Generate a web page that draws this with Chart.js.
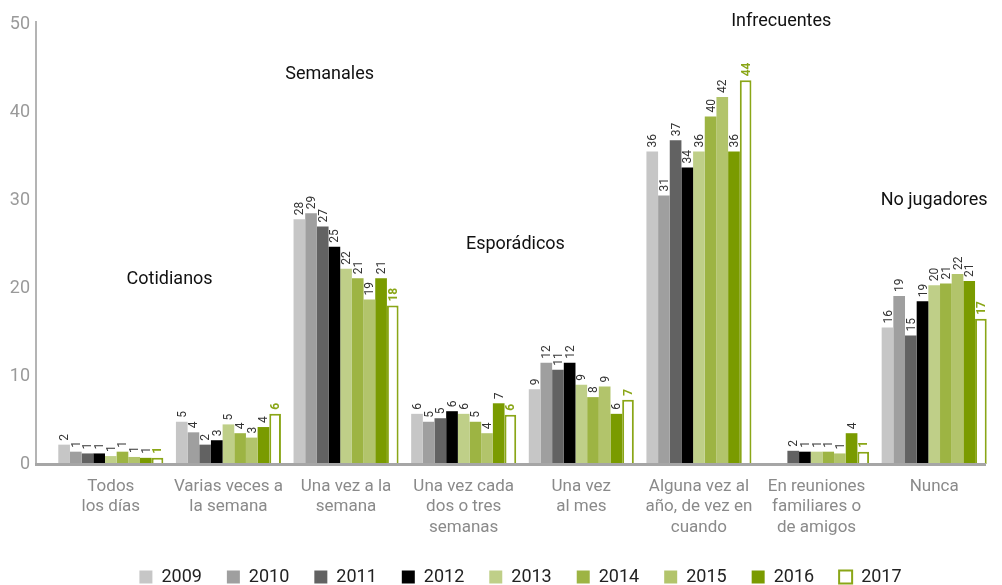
<!DOCTYPE html>
<html><head><meta charset="utf-8">
<script src="https://cdn.jsdelivr.net/npm/chart.js@4/dist/chart.umd.min.js"></script>
<style>html,body{margin:0;padding:0;background:#fff}#wrap{width:1002px;height:585px;position:relative}</style>
</head><body><div id="wrap"><canvas id="c"></canvas></div>
<script>
const categories = [["Todos","los días"],["Varias veces a","la semana"],["Una vez a la","semana"],["Una vez cada","dos o tres","semanas"],["Una vez","al mes"],["Alguna vez al","año, de vez en","cuando"],["En reuniones","familiares o","de amigos"],["Nunca"]];
const years = ["2009","2010","2011","2012","2013","2014","2015","2016","2017"];
const v2009 = [2.2, 4.8, 27.8, 5.7, 8.5, 35.5, null, 15.5];
const v2010 = [1.4, 3.6, 28.5, 4.8, 11.5, 30.5, null, 19.1];
const v2011 = [1.2, 2.2, 27.0, 5.2, 10.7, 36.8, 1.5, 14.6];
const v2012 = [1.2, 2.7, 24.7, 6.0, 11.5, 33.7, 1.4, 18.5];
const v2013 = [0.9, 4.5, 22.2, 5.7, 9.0, 35.5, 1.4, 20.3];
const v2014 = [1.4, 3.5, 21.1, 4.8, 7.6, 39.5, 1.4, 20.5];
const v2015 = [0.8, 3.0, 18.7, 3.5, 8.8, 41.7, 1.2, 21.6];
const v2016 = [0.7, 4.2, 21.1, 6.9, 5.7, 35.5, 3.5, 20.8];
const v2017 = [0.7, 5.7, 18.0, 5.6, 7.3, 43.6, 1.4, 16.5];
const yTicks = [0, 10, 20, 30, 40, 50];
const groupNames = ["Cotidianos","Semanales","Esporádicos","Infrecuentes","No jugadores"];
const groupCatPos = [0.5, 1.86, 3.44, 5.7, 7.0];
const groupValPos = [21.0, 44.3, 25.0, 50.3, 29.9];

const FONT = "Roboto, 'Liberation Sans', sans-serif";
const seriesValues = [v2009,v2010,v2011,v2012,v2013,v2014,v2015,v2016,v2017];
const fills = ['#c6c6c6','#9f9f9f','#626262','#000000','#bfcf88','#9db443','#b2c46b','#7a9b00','#ffffff'];

const datasets = years.map((y, i) => ({
  label: y,
  data: seriesValues[i],
  backgroundColor: fills[i],
  borderColor: i === 8 ? '#8aa617' : fills[i],
  borderWidth: i === 8 ? 2 : 0,
  borderSkipped: 'start',
  categoryPercentage: 0.893,
  barPercentage: 1.0
}));

const valueLabels = {
  id: 'valueLabels',
  afterDatasetsDraw(chart) {
    const ctx = chart.ctx;
    chart.data.datasets.forEach((ds, di) => {
      const meta = chart.getDatasetMeta(di);
      meta.data.forEach((el, i) => {
        const v = ds.data[i];
        if (v === null || v === undefined) return;
        ctx.save();
        ctx.translate(el.x + 1, el.y - 4);
        ctx.rotate(-Math.PI / 2);
        ctx.textAlign = 'left';
        ctx.textBaseline = 'middle';
        if (di === 8) { ctx.font = "bold 12px " + FONT; ctx.fillStyle = '#8aa617'; }
        else { ctx.font = "12px " + FONT; ctx.fillStyle = '#333'; }
        ctx.fillText(String(Math.round(v)), 0, 0);
        ctx.restore();
      });
    });
  }
};

const axisLines = {
  id: 'axisLines',
  afterDatasetsDraw(chart) {
    const ctx = chart.ctx, a = chart.chartArea;
    const ys = chart.scales.y;
    const x0 = a.left - 16;
    ctx.save();
    ctx.strokeStyle = '#b4b4b4';
    ctx.lineWidth = 2;
    ctx.beginPath();
    ctx.moveTo(x0, ys.getPixelForValue(50) - 3);
    ctx.lineTo(x0, ys.getPixelForValue(0));
    ctx.stroke();
    ctx.strokeStyle = '#a6a6a6';
    ctx.lineWidth = 3;
    ctx.beginPath();
    ctx.moveTo(x0 - 1, ys.getPixelForValue(0) + 0.5);
    ctx.lineTo(a.right - 7, ys.getPixelForValue(0) + 0.5);
    ctx.stroke();
    ctx.restore();
  }
};

const groupTitles = {
  id: 'groupTitles',
  afterDatasetsDraw(chart) {
    const ctx = chart.ctx, xs = chart.scales.x, ys = chart.scales.y;
    ctx.save();
    ctx.font = "18px " + FONT;
    ctx.fillStyle = '#111';
    ctx.textAlign = 'center';
    ctx.textBaseline = 'middle';
    const step = xs.getPixelForValue(1) - xs.getPixelForValue(0);
    groupNames.forEach((t, i) => {
      const x = xs.getPixelForValue(0) + step * groupCatPos[i];
      ctx.fillText(t, x, ys.getPixelForValue(groupValPos[i]));
    });
    ctx.restore();
  }
};

const legendMover = {
  id: 'legendMover',
  afterLayout(chart) {
    const lg = chart.legend;
    if (!lg) return;
    const dy = -12, dx = 24;
    lg.top += dy; lg.left += dx; lg.right += dx;
    lg.bottom = chart.height;
    lg.height = lg.bottom - lg.top;
  }
};

new Chart(document.getElementById('c'), {
  type: 'bar',
  data: { labels: categories, datasets },
  plugins: [valueLabels, axisLines, groupTitles, legendMover],
  options: {
    responsive: true,
    maintainAspectRatio: false,
    animation: false,
    layout: { padding: { left: 0, right: 9, top: 24, bottom: 0 } },
    plugins: {
      tooltip: { enabled: false },
      legend: {
        position: 'bottom',
        maxHeight: 30,
        labels: {
          boxWidth: 13, boxHeight: 13, padding: 25,
          color: '#222',
          font: { size: 18, family: FONT }
        }
      }
    },
    scales: {
      x: {
        offset: true,
        grid: { display: false, drawTicks: false },
        border: { display: false },
        ticks: { color: '#8a8a8a', font: { size: 17, family: FONT, lineHeight: 1.22 }, padding: 12, maxRotation: 0, autoSkip: false },
        afterFit(s) { s.height = 91; }
      },
      y: {
        min: 0, max: 50,
        grid: { display: false, drawTicks: false },
        border: { display: false },
        afterBuildTicks(s) { s.ticks = yTicks.map(v => ({ value: v })); },
        ticks: { color: '#9a9a9a', font: { size: 18, family: FONT }, padding: 22 },
        afterFit(s) { s.width = 52; s.paddingTop = 0; s.paddingBottom = 0; }
      }
    }
  }
});
</script>
</body></html>
